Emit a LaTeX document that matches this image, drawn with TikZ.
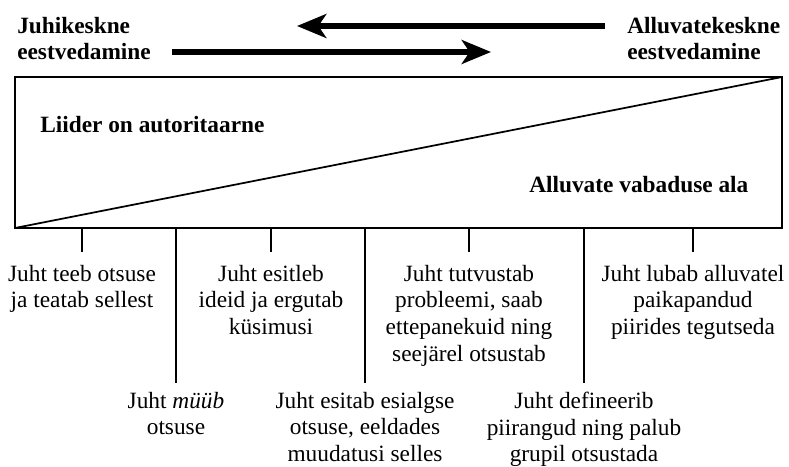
\documentclass[tikz,border=0pt]{standalone}
\usepackage{fontspec}
\setmainfont{Liberation Serif}
\usetikzlibrary{arrows.meta}
\begin{document}
\begin{tikzpicture}[x=0.75pt,y=-0.75pt,
  lbl/.style={inner sep=0pt, anchor=north, align=center, font=\fontsize{17.5}{19.9}\selectfont},
  head/.style={inner sep=0pt, font=\fontsize{17.5}{19.2}\selectfont\bfseries},
  frame/.style={line width=1.3pt},
  tick/.style={line width=1pt},
  bigarrow/.style={line width=3.8pt, -{Stealth[length=22pt,width=18pt,inset=6pt]}}]
\useasboundingbox (0,0) rectangle (789,467);
% headings
\node[head, anchor=north west, align=left] (hl) at (17,17) {Juhikeskne\\eestvedamine};
\node[head, anchor=north west, align=left] (hr) at (627,17) {Alluvatekeskne\\eestvedamine};
% arrows
\coordinate (a1s) at (605,26); \coordinate (a1e) at (297,26);
\coordinate (a2s) at (172,52); \coordinate (a2e) at (491,52);
\draw[bigarrow] (a1s) -- (a1e);
\draw[bigarrow] (a2s) -- (a2e);
% frame
\coordinate (tl) at (15,77); \coordinate (br) at (782,228);
\coordinate (bl) at (15,228); \coordinate (tr) at (782,77);
\draw[frame] (tl) rectangle (br);
\draw[frame] (bl) -- (tr);
\node[head, anchor=west] (lead) at (40,125) {Liider on autoritaarne};
\node[head, anchor=west] (free) at (529,185) {Alluvate vabaduse ala};
% labels
\node[lbl] (l1) at (82,265) {Juht teeb otsuse\\ja teatab sellest};
\node[lbl] (l2) at (176,392) {Juht \textit{müüb}\\otsuse};
\node[lbl] (l3) at (271,265) {Juht esitleb\\ideid ja ergutab\\küsimusi};
\node[lbl] (l4) at (365,392) {Juht esitab esialgse\\otsuse, eeldades\\muudatusi selles};
\node[lbl] (l5) at (469,265) {Juht tutvustab\\probleemi, saab\\ettepanekuid ning\\seejärel otsustab};
\node[lbl] (l6) at (584,392) {Juht defineerib\\piirangud ning palub\\grupil otsustada};
\node[lbl] (l7) at (693,265) {Juht lubab alluvatel\\paikapandud\\piirides tegutseda};
% ticks
\foreach \x/\n/\e in {82/1/252, 176/2/383, 271/3/252, 365/4/383, 469/5/252, 584/6/383, 693/7/252}{
  \coordinate (t\n) at (\x,228);
  \coordinate (e\n) at (\x,\e);
  \draw[tick] (t\n) -- (e\n);
}
\end{tikzpicture}
\end{document}
